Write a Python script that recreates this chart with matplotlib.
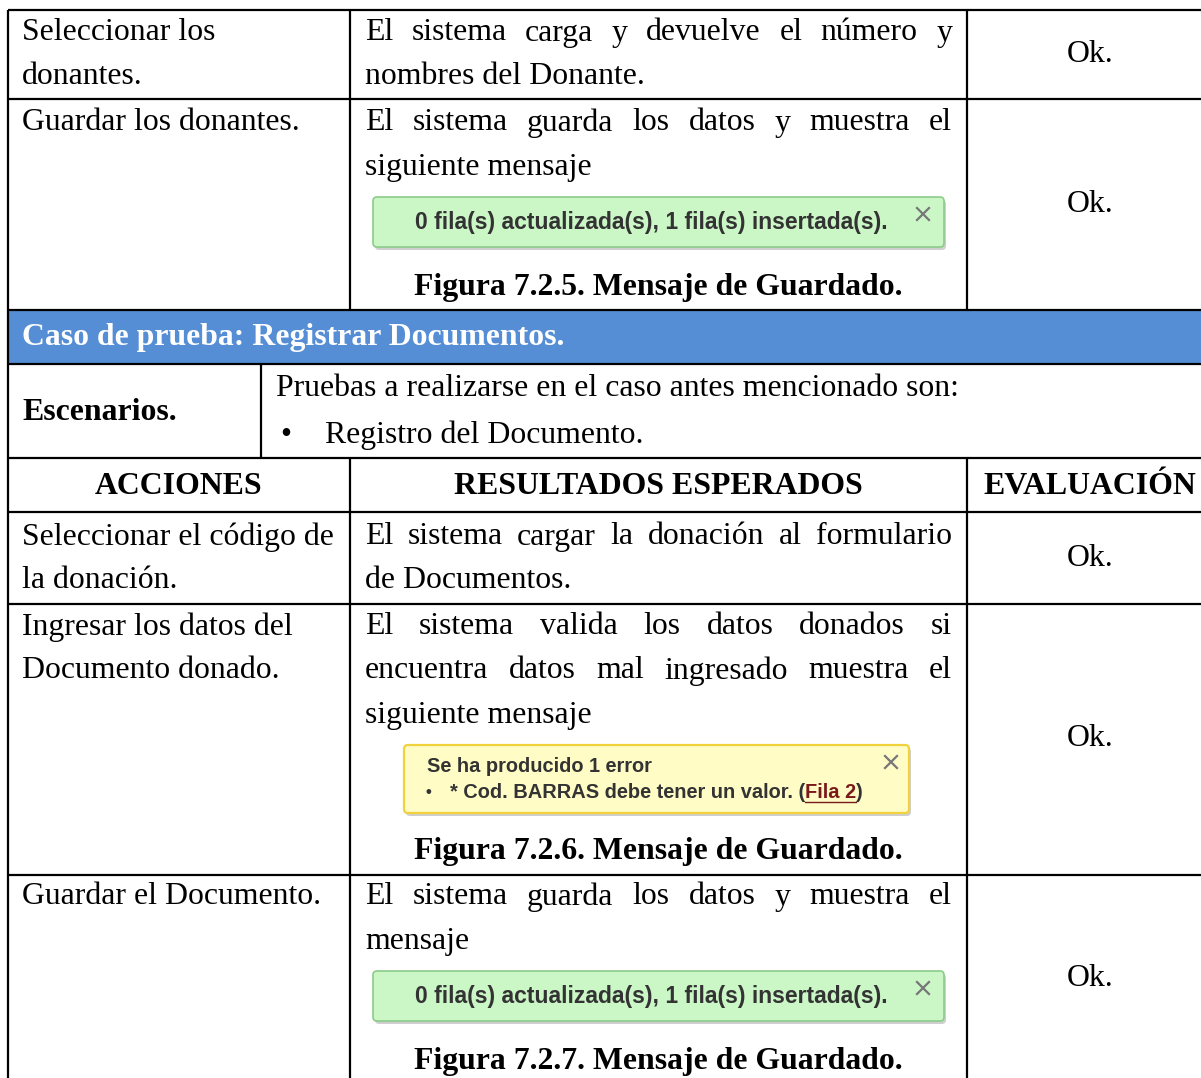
import matplotlib.pyplot as plt
from matplotlib.patches import Rectangle, FancyBboxPatch

# table contents
col1_text = [
    ["Seleccionar los", "donantes."],
    ["Guardar los donantes."],
    ["Seleccionar el código de", "la donación."],
    ["Ingresar los datos del", "Documento donado."],
    ["Guardar el Documento."],
]
col2_text = [
    ["El sistema carga y devuelve el número y", "nombres del Donante."],
    ["El sistema guarda los datos y muestra el", "siguiente mensaje"],
    ["El sistema cargar la donación al formulario", "de Documentos."],
    ["El sistema valida los datos donados si",
     "encuentra datos mal ingresado muestra el", "siguiente mensaje"],
    ["El sistema guarda los datos y muestra el", "mensaje"],
]
col3_text = ["Ok.", "Ok.", "Ok.", "Ok.", "Ok."]
captions = ["Figura 7.2.5. Mensaje de Guardado.",
            "Figura 7.2.6. Mensaje de Guardado.",
            "Figura 7.2.7. Mensaje de Guardado."]
headers = ["ACCIONES", "RESULTADOS ESPERADOS", "EVALUACIÓN"]
case_title = "Caso de prueba: Registrar Documentos."
scen_label = "Escenarios."
scen_intro = "Pruebas a realizarse en el caso antes mencionado son:"
scen_items = ["Registro del Documento."]
ok_msg = "0 fila(s) actualizada(s), 1 fila(s) insertada(s)."
err_title = "Se ha producido 1 error"
err_item = "* Cod. BARRAS debe tener un valor. ("
err_link = "Fila 2"

W, H = 1201, 1078
fig = plt.figure(figsize=(W / 100, H / 100), dpi=100)
ax = fig.add_axes([0, 0, 1, 1])
ax.set_xlim(0, W)
ax.set_ylim(H, 0)
ax.axis('off')
renderer = fig.canvas.get_renderer()

serif = dict(family='Liberation Serif', size=22.9, color='black')
sans_ok = dict(family='Liberation Sans', size=16.5, color='#333333', weight='bold')
sans_err = dict(family='Liberation Sans', size=14.4, color='#333333', weight='bold')
lw = 1.6

XL, XC1, XC2 = 8, 350, 967
TX1, TX2 = 22, 365
JR = 952


def hline(y, x0=XL, x1=W):
    ax.plot([x0, x1], [y, y], color='black', lw=lw, solid_capstyle='butt')


def vline(x, y0, y1):
    ax.plot([x, x], [y0, y1], color='black', lw=lw, solid_capstyle='butt')


def justified(line, x0, x1, y):
    words = line.split()
    arts = [ax.text(0, y, w, va='center', ha='left', **serif) for w in words]
    widths = [a.get_window_extent(renderer).width for a in arts]
    gap = (x1 - x0 - sum(widths)) / (len(words) - 1)
    x = x0
    for a, wd in zip(arts, widths):
        a.set_x(x)
        x += wd + gap


def left(line, x, y, **kw):
    ax.text(x, y, line, va='center', ha='left', **{**serif, **kw})


def close_x(cx, cy, s=6):
    ax.plot([cx - s, cx + s], [cy - s, cy + s], color='#777777', lw=1.6)
    ax.plot([cx - s, cx + s], [cy + s, cy - s], color='#777777', lw=1.6)


def msg_box(x0, y0, x1, y1, fc, ec, elw=1.2):
    ax.add_patch(FancyBboxPatch((x0 + 2, y0 + 3), x1 - x0, y1 - y0,
                                boxstyle="round,pad=0,rounding_size=4",
                                fc='#b0b0b0', ec='none', alpha=0.6))
    ax.add_patch(FancyBboxPatch((x0, y0), x1 - x0, y1 - y0,
                                boxstyle="round,pad=0,rounding_size=4",
                                fc=fc, ec=ec, lw=elw))


def ok_box(y0):
    msg_box(373, y0, 944, y0 + 50, '#cbf7c6', '#8ccb8a')
    ax.text(651, y0 + 25, ok_msg, va='center', ha='center', **sans_ok)
    close_x(923, y0 + 17)


# grid lines
hline(10)
hline(99)
hline(310)
hline(364)
hline(458)
hline(512)
hline(604)
hline(875)
vline(XL, 10, H)
vline(XC1, 10, 310)
vline(XC2, 10, 310)
vline(261, 364, 458)
vline(XC1, 458, H)
vline(XC2, 458, H)

# blue header band
ax.add_patch(Rectangle((XL + 1, 311), W - XL, 52, fc='#558ed5', ec='none'))
ax.text(TX1, 338, case_title, va='center', ha='left',
        **{**serif, 'color': 'white', 'weight': 'bold'})

# scenarios
left(scen_label, TX1, 412, weight='bold')
left(scen_intro, 276, 388)
ax.text(286, 435, "•", va='center', ha='center', **serif)
left(scen_items[0], 325, 435)

# column headers
for txt, cx in zip(headers, [179, 658, 1090]):
    ax.text(cx, 487, txt, va='center', ha='center', **{**serif, 'weight': 'bold'})

# body rows
row_tops = [33, 123, 537, 627, 897]
ok_y = [55, 205, 559, 739, 979]
step = 44
for r in range(5):
    for i, line in enumerate(col1_text[r]):
        left(line, TX1, row_tops[r] + i * step)
    lines = col2_text[r]
    for i, line in enumerate(lines):
        y = row_tops[r] + i * step
        if i < len(lines) - 1:
            justified(line, TX2, JR, y)
        else:
            left(line, TX2, y)
    ax.text(1090, ok_y[r], col3_text[r], va='center', ha='center', **serif)

# message boxes and captions
ok_box(197)
ax.text(658, 287, captions[0], va='center', ha='center', **{**serif, 'weight': 'bold'})

msg_box(404, 745, 909, 813, '#fffcc6', '#f2d23c', 1.6)
ax.text(427, 767, err_title, va='center', ha='left', **sans_err)
ax.text(428, 792, "•", va='center', ha='center', **{**sans_err, 'size': 12})
t1 = ax.text(450, 792, err_item, va='center', ha='left', **sans_err)
bb = t1.get_window_extent(renderer)
t2 = ax.text(450 + bb.width, 792, err_link, va='center', ha='left',
             **{**sans_err, 'color': '#7a1a1a'})
bb2 = t2.get_window_extent(renderer)
ax.plot([450 + bb.width, 450 + bb.width + bb2.width], [802, 802], color='#7a1a1a', lw=1)
ax.text(450 + bb.width + bb2.width, 792, ")", va='center', ha='left', **sans_err)
close_x(891, 762)
ax.text(658, 852, captions[1], va='center', ha='center', **{**serif, 'weight': 'bold'})

ok_box(971)
ax.text(658, 1061, captions[2], va='center', ha='center', **{**serif, 'weight': 'bold'})

fig.savefig('out.png', dpi=100)
